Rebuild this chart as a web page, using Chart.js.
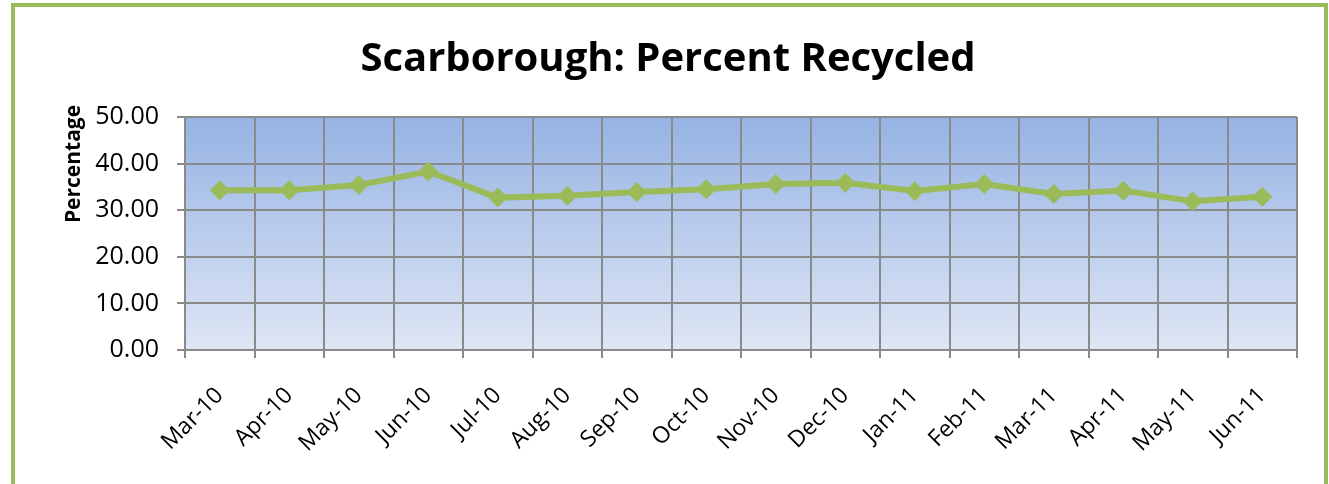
<!DOCTYPE html>
<html lang="en">
<head>
    <meta charset="UTF-8">
    <title>Scarborough: Percent Recycled</title>
    <script src="https://cdn.jsdelivr.net/npm/chart.js"></script>
    <style>
        body { margin: 0; background: #fff; }
    </style>
</head>
<body>
    <canvas id="recycleChart" width="1329" height="484"></canvas>

    <script>
        // data
        const months = ['Mar-10', 'Apr-10', 'May-10', 'Jun-10', 'Jul-10', 'Aug-10', 'Sep-10', 'Oct-10',
                        'Nov-10', 'Dec-10', 'Jan-11', 'Feb-11', 'Mar-11', 'Apr-11', 'May-11', 'Jun-11'];
        const percentRecycled = [34.3, 34.3, 35.4, 38.3, 32.7, 33.1, 33.9, 34.5,
                                 35.6, 35.9, 34.1, 35.6, 33.5, 34.2, 31.9, 32.9];
        const yTicks = [0, 10, 20, 30, 40, 50];

        const green = '#9bbb59';
        const gridGray = '#8a8a8a';

        // blue gradient behind the plot + green frame + rotated axis title
        const decor = {
            id: 'decor',
            beforeDraw(chart) {
                const { ctx, chartArea: a } = chart;
                const g = ctx.createLinearGradient(0, a.top, 0, a.bottom);
                g.addColorStop(0, '#95b3e3');
                g.addColorStop(1, '#dfe6f5');
                ctx.save();
                ctx.fillStyle = g;
                ctx.fillRect(a.left, a.top, a.right - a.left, a.bottom - a.top);
                ctx.restore();
            },
            afterDraw(chart) {
                const ctx = chart.ctx;
                ctx.save();
                ctx.strokeStyle = green;
                ctx.lineWidth = 4;
                ctx.strokeRect(13, 5, 1313, 490);
                ctx.translate(74, 164);
                ctx.rotate(-Math.PI / 2);
                ctx.fillStyle = '#000';
                ctx.font = 'bold 21px "Open Sans"';
                ctx.textAlign = 'center';
                ctx.textBaseline = 'middle';
                ctx.fillText('Percentage', 0, 0);
                ctx.restore();
            }
        };

        const ctx = document.getElementById('recycleChart').getContext('2d');
        const chart = new Chart(ctx, {
            type: 'line',
            data: {
                labels: months,
                datasets: [{
                    label: 'Percent Recycled',
                    data: percentRecycled,
                    borderColor: green,
                    backgroundColor: green,
                    borderWidth: 6,
                    pointStyle: 'rectRot',
                    pointRadius: 10,
                    pointHoverRadius: 10,
                    pointBorderWidth: 0,
                    tension: 0
                }]
            },
            options: {
                responsive: false,
                animation: false,
                layout: { padding: { left: 39, right: 32, top: 0, bottom: 0 } },
                plugins: {
                    legend: { display: false },
                    tooltip: { enabled: false },
                    title: {
                        display: true,
                        text: 'Scarborough: Percent Recycled',
                        color: '#000',
                        font: { family: 'Open Sans', size: 40, weight: 'bold', lineHeight: 1.2 },
                        padding: { top: 36, bottom: 33 }
                    }
                },
                scales: {
                    x: {
                        offset: true,
                        grid: { offset: true, color: gridGray, lineWidth: 2, tickLength: 8 },
                        border: { color: gridGray, width: 2 },
                        ticks: {
                            color: '#000',
                            font: { family: 'Open Sans', size: 23 },
                            minRotation: 45,
                            maxRotation: 45,
                            padding: 24
                        },
                        afterFit(scale) { scale.height = 134; }
                    },
                    y: {
                        min: 0,
                        max: 50,
                        afterBuildTicks(scale) { scale.ticks = yTicks.map(v => ({ value: v })); },
                        grid: { color: gridGray, lineWidth: 2, tickLength: 8 },
                        border: { color: gridGray, width: 2 },
                        ticks: {
                            color: '#000',
                            font: { family: 'Open Sans', size: 25 },
                            padding: 18,
                            callback: v => v.toFixed(2)
                        },
                        afterFit(scale) { scale.width = 146; }
                    }
                }
            },
            plugins: [decor]
        });
    </script>
</body>
</html>
